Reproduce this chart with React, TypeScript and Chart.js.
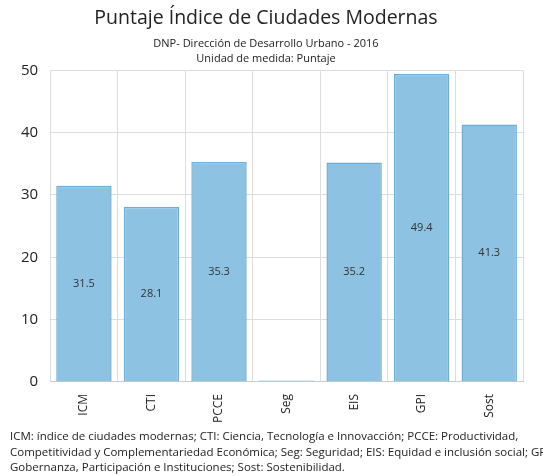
import React, { useEffect, useRef } from "react";
import { Chart, registerables } from "chart.js";

Chart.register(...registerables);

const categories = ["ICM", "CTI", "PCCE", "Seg", "EIS", "GPI", "Sost"];
const values = [31.5, 28.1, 35.3, 0.25, 35.2, 49.4, 41.3];
const yTicks = [0, 10, 20, 30, 40, 50];
const titleText = "Puntaje Índice de Ciudades Modernas";
const subtitleLines = ["DNP- Dirección de Desarrollo Urbano - 2016", "Unidad de medida: Puntaje"];
const footnoteLines = [
  "ICM: índice de ciudades modernas; CTI: Ciencia, Tecnología e Innovacción; PCCE: Productividad,",
  "Competitividad y Complementariedad Económica; Seg: Seguridad; EIS: Equidad e inclusión social; GPI:",
  "Gobernanza, Participación e Instituciones; Sost: Sostenibilidad.",
];

const FONT = "'Open Sans', 'Noto Sans', sans-serif";

const valueLabels = {
  id: "valueLabels",
  afterDatasetsDraw(chart: any) {
    const ctx = chart.ctx;
    const meta = chart.getDatasetMeta(0);
    ctx.save();
    ctx.font = `11px ${FONT}`;
    ctx.fillStyle = "#333333";
    ctx.textAlign = "center";
    ctx.textBaseline = "middle";
    meta.data.forEach((bar: any, i: number) => {
      const v = values[i];
      if (v < 1) return;
      const y = (bar.y + bar.base) / 2;
      ctx.fillText(v.toFixed(1), bar.x, y);
    });
    ctx.restore();
  },
};

export default function App() {
  const ref = useRef<HTMLCanvasElement>(null);
  useEffect(() => {
    if (!ref.current) return;
    const chart = new Chart(ref.current, {
      type: "bar",
      data: {
        labels: categories,
        datasets: [
          {
            data: values,
            backgroundColor: "#8dc2e2",
            borderColor: "#6eaed6",
            borderWidth: 1.5,
            barPercentage: 0.82,
            categoryPercentage: 1,
          },
        ],
      },
      options: {
        animation: false,
        responsive: false,
        layout: { padding: { left: 9, right: 20, top: 0, bottom: 0 } },
        plugins: {
          legend: { display: false },
          tooltip: { enabled: false },
          title: {
            display: true,
            text: titleText,
            color: "#222222",
            font: { family: FONT, size: 19.5, weight: "normal" },
            padding: { top: 7, bottom: 5 },
          },
          subtitle: {
            display: true,
            text: subtitleLines,
            color: "#222222",
            font: { family: FONT, size: 11, weight: "normal", lineHeight: 1.45 },
            padding: { top: 0, bottom: 3 },
          },
        },
        scales: {
          x: {
            grid: { color: "#dddddd", offset: true, drawTicks: false },
            border: { color: "#cccccc" },
            ticks: {
              color: "#222222",
              font: { family: FONT, size: 12 },
              maxRotation: 90,
              minRotation: 90,
              padding: 12,
            },
          },
          y: {
            min: 0,
            max: 50,
            afterBuildTicks: (axis: any) => {
              axis.ticks = yTicks.map((v) => ({ value: v }));
            },
            grid: { color: "#dddddd", drawTicks: false },
            border: { display: false },
            ticks: {
              color: "#222222",
              font: { family: FONT, size: 15 },
              padding: 12,
            },
          },
        },
      },
      plugins: [valueLabels],
    });
    return () => chart.destroy();
  }, []);

  return (
    <div style={{ position: "fixed", left: 0, top: 0, width: 543, height: 476, overflow: "hidden", background: "#fff" }}>
      <canvas ref={ref} width={543} height={435} style={{ display: "block" }} />
      <div
        style={{
          position: "absolute",
          left: 10,
          top: 428,
          fontFamily: FONT,
          fontSize: 11.5,
          lineHeight: "15.5px",
          color: "#222222",
          whiteSpace: "nowrap",
        }}
      >
        {footnoteLines.map((l, i) => (
          <div key={i}>{l}</div>
        ))}
      </div>
    </div>
  );
}
